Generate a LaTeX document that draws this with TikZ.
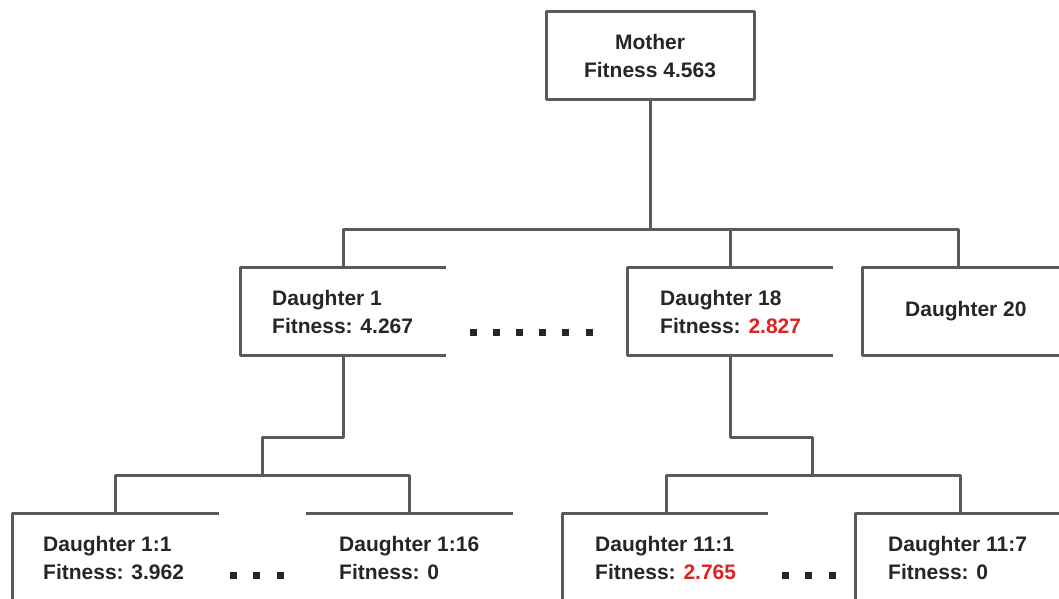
\documentclass[tikz,border=0pt]{standalone}
\usepackage{fontspec}
\setmainfont{Liberation Sans}
\usetikzlibrary{positioning}
\definecolor{linegray}{RGB}{92,90,88}
\definecolor{fitred}{RGB}{222,34,34}

\begin{document}
\begin{tikzpicture}[x=1pt, y=-1pt,
    line/.style={draw=linegray, line width=3pt, line join=round},
    lbl/.style={font=\fontsize{21}{28}\selectfont\bfseries, text=black!85,
        align=left, anchor=west, inner sep=0pt},
    dotcol/.style={fill=black!85}]
    \clip (0,0) rectangle (1059,599);

    % top of the tree
    \node[line, lbl, anchor=center, align=center, minimum width=208pt,
        minimum height=88pt] (mother) at (650,56) {Mother\\Fitness 4.563};

    % second row: boxes open on the right
    \foreach \l/\r in {240/446, 627/833, 862/1070} {
        \draw[line] (\r,267) -| (\l,355) -- (\r,355);
    }
    \node[lbl] (d1) at (272,312) {Daughter 1\\Fitness: 4.267};
    \node[lbl] (d18) at (660,312) {Daughter 18\\Fitness: \textcolor{fitred}{2.827}};
    \node[lbl] (d20) at (905,311) {Daughter 20};
    \foreach \i in {0,...,5} {
        \fill[dotcol] (473+\i*23.2,332) ++(-3.5,-3.5) rectangle ++(7,7);
    }

    % third row
    \foreach \l/\r in {12/219, 562/768, 855/1070} {
        \draw[line] (\r,513) -| (\l,620);
    }
    \draw[line] (306,513) -- (513,513);
    \node[lbl] (d11) at (43,558) {Daughter 1:1\\Fitness: 3.962};
    \node[lbl] (d116) at (339,558) {Daughter 1:16\\Fitness: 0};
    \node[lbl] (d181) at (595,558) {Daughter 11:1\\Fitness: \textcolor{fitred}{2.765}};
    \node[lbl] (d187) at (888,558) {Daughter 11:7\\Fitness: 0};
    \foreach \x in {233,256.5,280, 785,808.5,832} {
        \fill[dotcol] (\x,575) ++(-3.5,-3.5) rectangle ++(7,7);
    }

    % connectors
    \coordinate (bar1) at (650,229);
    \coordinate (d1top) at (343,267);
    \coordinate (d18top) at (730,267);
    \coordinate (d20top) at (958,267);
    \coordinate (d1bot) at (343,355);
    \coordinate (d18bot) at (730,355);
    \coordinate (k1) at (262,475);
    \coordinate (k2) at (812,475);
    \coordinate (c11) at (115,513);
    \coordinate (c116) at (409,513);
    \coordinate (c181) at (666,513);
    \coordinate (c187) at (960,513);

    \draw[line] (mother.south) -- (bar1);
    \draw[line] (d1top) |- (bar1) -| (d20top);
    \draw[line] (d18top) -- (d18top |- bar1);

    \draw[line] (d1bot) -- ++(0,82) -| (k1);
    \draw[line] (c11) |- (k1) -| (c116);
    \draw[line] (d18bot) -- ++(0,82) -| (k2);
    \draw[line] (c181) |- (k2) -| (c187);
\end{tikzpicture}
\end{document}
